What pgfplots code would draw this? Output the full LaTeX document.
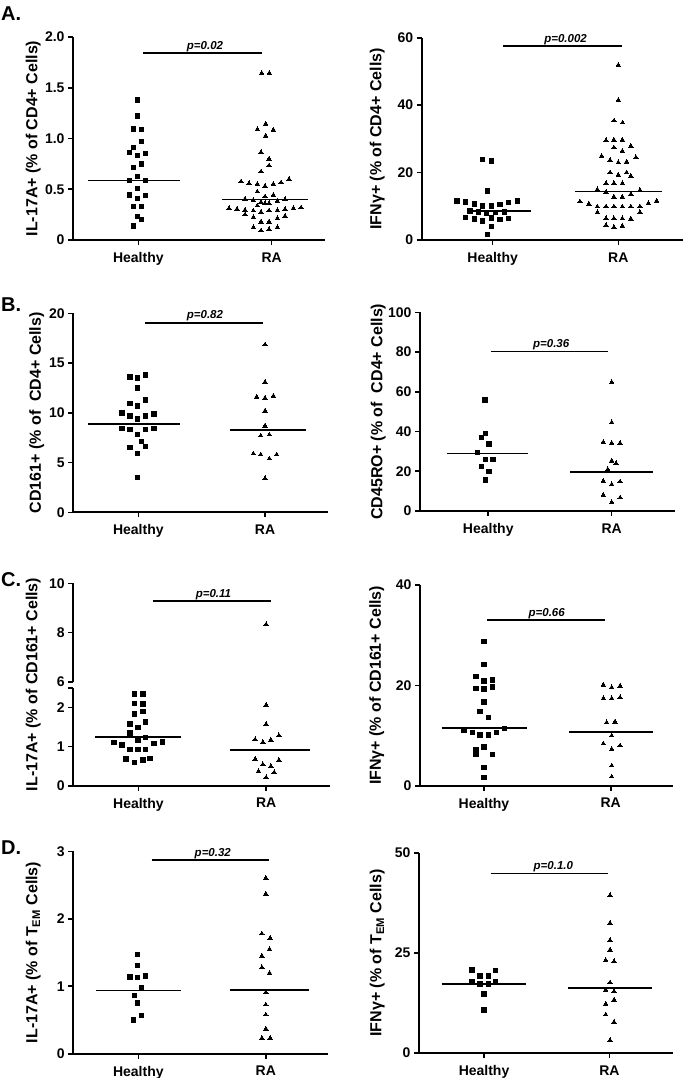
\documentclass[border=0pt]{standalone}
\usepackage{fontspec}
\setmainfont{Liberation Sans}
\usepackage{pgfplots}
\pgfplotsset{compat=1.18}
\pgfplotsset{
  panel/.style={
    scale only axis, axis x line=bottom, axis y line=left,
    axis line style={-, line width=1.9pt, black},
    tick align=outside, major tick length=5pt,
    every tick/.style={line width=1.6pt, black},
    xtick={0,1}, xticklabels={Healthy,RA},
    tick label style={font=\bfseries\fontsize{14}{14}\selectfont},
    xticklabel style={yshift=-4pt},
    ymin=0, clip=false, anchor=south west,
  },
  hs/.style={only marks, mark=square*, mark size=2.25pt, mark options={fill=black,draw=black,line width=0pt}},
  ra/.style={only marks, mark=triangle*, mark size=2.55pt, mark options={fill=black,draw=black,line width=0pt}},
  med/.style={black, line width=1.7pt, no marks},
}
\newcommand{\pv}{\bfseries\itshape\fontsize{11.5}{12}\selectfont}
\newcommand{\yl}{\bfseries\fontsize{16}{16}\selectfont}
\newcommand{\pl}{\bfseries\fontsize{20}{20}\selectfont}
\begin{document}
\begin{tikzpicture}
\useasboundingbox (0,0) rectangle (685pt,-1078pt);
% panel letters
\node[font=\pl, anchor=west, inner sep=0pt] at (1pt,-14pt) {A.};
\node[font=\pl, anchor=west, inner sep=0pt] at (1pt,-305pt) {B.};
\node[font=\pl, anchor=west, inner sep=0pt] at (1pt,-580pt) {C.};
\node[font=\pl, anchor=west, inner sep=0pt] at (1pt,-848pt) {D.};
% y labels
\node[font=\yl, rotate=90] at (33.3pt,-138.5pt) {IL-17A+ (\% of CD4+ Cells)};
\node[font=\yl, rotate=90] at (377.3pt,-138.9pt) {IFNγ+ (\% of CD4+ Cells)};
\node[font=\yl, rotate=90] at (36.7pt,-412.8pt) {CD161+ (\% of\ \ CD4+ Cells)};
\node[font=\yl, rotate=90] at (378.3pt,-411.7pt) {CD45RO+ (\% of\ \ CD4+ Cells)};
\node[font=\yl, rotate=90] at (33.3pt,-684.5pt) {IL-17A+ (\% of CD161+ Cells)};
\node[font=\yl, rotate=90] at (376.7pt,-685.4pt) {IFNγ+ (\% of CD161+ Cells)};
\node[font=\yl, rotate=90] at (33.3pt,-952.5pt) {IL-17A+ (\% of T\textsubscript{EM} Cells)};
\node[font=\yl, rotate=90] at (377.3pt,-953pt) {IFNγ+ (\% of T\textsubscript{EM} Cells)};

% ---------------- A left
\begin{axis}[panel, at={(73pt,-240pt)}, width=252pt, height=203pt,
  xmin=-0.49, xmax=1.40, ymax=2, ytick={0,0.5,1,1.5,2}, yticklabels={0,0.5,1.0,1.5,2.0}]
\addplot[hs] coordinates {(-0.005,1.379) (-0.005,1.222) (-0.0375,1.094) (0.025,1.090) (0.025,0.969)
 (-0.0375,0.913) (-0.0675,0.860) (-0.005,0.831) (0.055,0.854) (0.025,0.749) (-0.0375,0.713)
 (-0.005,0.624) (-0.0675,0.585) (0.055,0.585) (-0.005,0.509) (-0.0675,0.443) (-0.005,0.411) (0.055,0.44)
 (-0.0375,0.328) (0.025,0.328) (-0.005,0.23) (0.025,0.204) (-0.0375,0.138)};
\addplot[ra] coordinates {(0.925,1.645) (0.9825,1.645) (0.955,1.145) (0.8925,1.09) (1.0125,1.085) (0.955,1.026)
 (0.92,0.864) (0.98,0.80) (0.98,0.732) (0.92,0.673)
 (0.77,0.575) (0.83,0.558) (0.8925,0.552) (0.95,0.532) (1.0125,0.552) (1.07,0.565) (1.13,0.60)
 (0.8925,0.476) (1.0125,0.443) (0.95,0.427)
 (0.80,0.404) (0.8625,0.394) (0.92,0.374) (0.95,0.361) (0.98,0.361) (1.0425,0.384) (1.10,0.40)
 (0.8925,0.338)
 (0.68,0.312) (0.74,0.305) (0.80,0.296) (0.8625,0.289) (0.92,0.276) (0.98,0.289) (1.0425,0.292) (1.10,0.302) (1.1625,0.312) (1.22,0.318)
 (0.80,0.25) (1.10,0.236) (0.8625,0.223) (1.0425,0.213) (0.92,0.18) (0.98,0.18)
 (0.8625,0.125) (1.0425,0.125) (0.92,0.092) (0.98,0.105)};
\addplot[med] coordinates {(-0.375,0.585) (0.31,0.585)};
\addplot[med] coordinates {(0.63,0.40) (1.27,0.40)};
\addplot[med] coordinates {(0.035,1.84) (0.927,1.84)};
\node[font=\pv, anchor=base, yshift=4pt] at (axis cs:0.5,1.84) {p=0.02};
\end{axis}

% ---------------- A right
\begin{axis}[panel, at={(421.7pt,-240pt)}, width=261.3pt, height=202.3pt,
  xmin=-0.565, xmax=1.515, ymax=60, ytick={0,20,40,60}, yticklabels={0,20,40,60}]
\addplot[hs] coordinates {(-0.08,23.9) (-0.008,23.4) (-0.042,14.6)
 (-0.286,11.6) (-0.215,11.3) (-0.146,10.7) (-0.08,10.1) (-0.008,10.1) (0.058,10.5) (0.127,11.1) (0.196,11.5)
 (-0.18,8.6) (-0.114,8.3) (-0.048,7.9) (0.024,8.1) (0.093,8.3)
 (-0.215,6.6) (-0.146,6.2) (-0.08,5.7) (-0.008,6.5) (0.058,6.1) (0.127,6.4)
 (-0.008,4.0) (-0.042,1.7)};
\addplot[ra] coordinates {(1,51.9) (1,41.5) (0.966,35.4) (1.034,34.8)
 (0.902,29.5) (0.965,29.7) (1.032,29.7) (0.965,27.4) (1.032,26.4) (1.1,27.9)
 (0.867,24.9) (0.934,23.7) (1,23.0) (1.066,23.2) (1.14,24.5)
 (0.934,20.0) (1,19.3) (1.066,20.0) (1.1,19.0)
 (0.902,16.8) (0.965,16.8) (1.032,16.8)
 (0.833,15.0) (0.902,14.1) (1.172,14.8)
 (0.965,12.8) (1.032,12.8) (1.1,13.6)
 (0.695,11.4) (0.766,10.7) (1.239,10.9) (1.305,11.6)
 (0.833,9.9) (0.902,9.9) (0.965,9.9) (1.032,9.9) (1.1,9.9) (1.172,9.9)
 (0.833,8.2) (1.172,8.2)
 (0.902,6.4) (0.965,6.4) (1.032,6.4) (1.1,6.3)
 (0.902,4.4) (0.965,3.8) (1.032,4.2)};
\addplot[med] coordinates {(-0.194,8.7) (0.302,8.7)};
\addplot[med] coordinates {(0.655,14.4) (1.345,14.4)};
\addplot[med] coordinates {(0.085,57.5) (1.027,57.5)};
\node[font=\pv, anchor=base, yshift=4pt] at (axis cs:0.58,57.5) {p=0.002};
\end{axis}

% ---------------- B left
\begin{axis}[panel, at={(73.3pt,-512.3pt)}, width=254.7pt, height=199pt,
  xmin=-0.513, xmax=1.497, ymax=20, ytick={0,5,10,15,20}, yticklabels={0,5,10,15,20}]
\addplot[hs] coordinates {(-0.066,13.6) (-0.005,13.5) (0.058,13.8) (-0.005,12.5)
 (-0.066,10.95) (-0.005,10.7) (0.058,11.3)
 (-0.13,10.0) (-0.066,9.7) (-0.005,9.4) (0.058,9.7) (0.124,9.9)
 (-0.13,8.4) (-0.066,8.3) (0.058,8.3) (0.124,8.4)
 (-0.005,7.8) (0.026,7.1) (-0.066,6.5) (0.058,6.6) (-0.005,5.9) (-0.005,3.5)};
\addplot[ra] coordinates {(1,16.85) (1,13.1) (0.934,11.6) (1,11.5) (1.066,11.7) (1,10.2) (1,8.7)
 (0.966,7.7) (1.034,7.8) (0.908,5.9) (0.966,5.8) (1.034,5.4) (1.092,5.8) (1,3.4)};
\addplot[med] coordinates {(-0.395,8.84) (0.33,8.84)};
\addplot[med] coordinates {(0.724,8.24) (1.324,8.24)};
\addplot[med] coordinates {(0.053,19.06) (0.987,19.06)};
\node[font=\pv, anchor=base, yshift=4pt] at (axis cs:0.526,19.06) {p=0.82};
\end{axis}

% ---------------- B right
\begin{axis}[panel, at={(420pt,-511pt)}, width=255pt, height=198.7pt,
  xmin=-0.553, xmax=1.513, ymax=100, ytick={0,20,40,60,80,100}, yticklabels={0,20,40,60,80,100}]
\addplot[hs] coordinates {(-0.027,55.9) (-0.022,39.1) (-0.054,37.1) (0.008,33.6) (-0.086,29.5)
 (-0.022,26.0) (0.04,26.0) (-0.054,22.3) (0.008,19.8) (-0.022,15.6)};
\addplot[ra] coordinates {(1,64.8) (1,44.6) (0.932,34.6) (1,34.2) (1.068,34.2) (1,25.3) (1.035,24.0)
 (0.968,21.0) (0.932,15.1) (1,13.4) (1.068,14.8) (0.932,8.05) (1.068,6.7) (1,4.4)};
\addplot[med] coordinates {(-0.338,29.0) (0.319,29.0)};
\addplot[med] coordinates {(0.662,19.8) (1.338,19.8)};
\addplot[med] coordinates {(0.022,80.2) (0.973,80.2)};
\node[font=\pv, anchor=base, yshift=4pt] at (axis cs:0.51,80.2) {p=0.36};
\end{axis}

% ---------------- C left (broken axis: lower part)
\begin{axis}[panel, at={(73.3pt,-785.7pt)}, width=256.7pt, height=98pt,
  xmin=-0.51, xmax=1.50, ymax=2.5, ytick={0,1,2,2.5}, yticklabels={0,1,2,{}}]
\addplot[hs] coordinates {(-0.031,2.34) (0.034,2.34) (-0.031,2.10) (0.034,2.09) (-0.031,1.83) (0.034,1.89)
 (-0.065,1.57) (0.057,1.63) (-0.005,1.49) (-0.065,1.34) (0.057,1.23) (-0.005,1.17)
 (-0.19,1.10) (-0.128,1.04) (0.123,1.08) (0.188,1.11)
 (-0.065,0.93) (-0.005,0.93) (0.057,0.93)
 (-0.097,0.68) (0.034,0.655) (0.091,0.70) (-0.031,0.59)};
\addplot[ra] coordinates {(1,2.06) (1,1.57) (0.914,1.18) (0.974,1.11) (1.037,1.17) (1.10,1.28)
 (0.914,0.68) (1.10,0.655) (0.974,0.545) (1.037,0.50) (0.94,0.37) (1.063,0.34) (1,0.21)};
\addplot[med] coordinates {(-0.34,1.234) (0.33,1.234)};
\addplot[med] coordinates {(0.72,0.91) (1.345,0.91)};
\end{axis}
% C left upper part
\begin{axis}[panel, axis x line=none, at={(73.3pt,-681.7pt)}, width=256.7pt, height=98.4pt,
  xmin=-0.51, xmax=1.50, ymin=6, ymax=10, ytick={6,8,10}, yticklabels={6,8,10}]
\addplot[ra] coordinates {(1,8.33)};
\addplot[med] coordinates {(0.112,9.28) (1.037,9.28)};
\node[font=\pv, anchor=base, yshift=4pt] at (axis cs:0.587,9.28) {p=0.11};
\end{axis}

% ---------------- C right
\begin{axis}[panel, at={(420pt,-785.7pt)}, width=253.3pt, height=200.7pt,
  xmin=-0.505, xmax=1.494, ymax=40, ytick={0,20,40}, yticklabels={0,20,40}]
\addplot[hs] coordinates {(0,28.7) (0,24.2) (-0.063,21.8) (0,20.9) (0.066,21.1)
 (-0.063,19.4) (0,19.3) (0.066,19.7) (0,16.7) (-0.032,14.75) (0.034,13.55)
 (-0.158,11.0) (-0.092,10.6) (-0.032,10.1) (0.034,10.1) (0.1,10.6) (0.16,11.4)
 (-0.063,7.1) (0,7.7) (-0.063,6.2) (0.066,6.2) (0,3.65) (0,1.6)};
\addplot[ra] coordinates {(0.942,20.1) (1.008,19.6) (1.074,19.9) (0.942,17.4) (1.008,17.4) (1.074,17.6)
 (0.968,12.6) (1.034,12.75) (1.008,9.97) (0.942,8.4) (1.008,7.3) (1.074,8.0) (1.008,4.0) (1.008,1.8)};
\addplot[med] coordinates {(-0.334,11.56) (0.342,11.56)};
\addplot[med] coordinates {(0.674,10.76) (1.337,10.76)};
\addplot[med] coordinates {(0.021,33.0) (0.955,33.0)};
\node[font=\pv, anchor=base, yshift=4pt] at (axis cs:0.495,33.0) {p=0.66};
\end{axis}

% ---------------- D left
\begin{axis}[panel, at={(73.3pt,-1053.7pt)}, width=255pt, height=202.4pt,
  xmin=-0.51, xmax=1.49, ymax=3, ytick={0,1,2,3}, yticklabels={0,1,2,3}]
\addplot[hs] coordinates {(-0.005,1.468) (-0.005,1.31) (-0.065,1.14) (-0.005,1.13) (0.058,1.15)
 (0.026,0.974) (-0.031,0.865) (-0.005,0.75) (0.026,0.568) (-0.039,0.5)};
\addplot[ra] coordinates {(1,2.605) (1,2.37) (0.969,1.78) (1.034,1.715) (1.029,1.55) (0.969,1.45)
 (0.969,1.28) (1.029,1.196) (1,0.91) (1,0.727) (1,0.578) (1,0.37) (0.969,0.232) (1.034,0.232)};
\addplot[med] coordinates {(-0.332,0.939) (0.332,0.939)};
\addplot[med] coordinates {(0.72,0.949) (1.335,0.949)};
\addplot[med] coordinates {(0.105,2.867) (1.026,2.867)};
\node[font=\pv, anchor=base, yshift=4pt] at (axis cs:0.584,2.867) {p=0.32};
\end{axis}

% ---------------- D right
\begin{axis}[panel, at={(419pt,-1053pt)}, width=254.3pt, height=200pt,
  xmin=-0.519, xmax=1.51, ymax=50, ytick={0,25,50}, yticklabels={0,25,50}]
\addplot[hs] coordinates {(-0.098,20.7) (-0.032,19.3) (0.035,19.2) (0.093,20.6)
 (-0.098,17.75) (-0.032,17.25) (0.035,17.3) (0.093,17.9) (0,14.8) (0,10.7)};
\addplot[ra] coordinates {(1.005,39.4) (1.005,32.5) (1.005,28.2) (1.005,25.8) (0.971,23.2) (1.037,22.9)
 (1.005,17.6) (0.971,15.8) (1.037,15.4) (1.037,13.3) (0.971,12.3) (0.971,9.6) (1.037,7.75) (1.005,3.2)};
\addplot[med] coordinates {(-0.338,17.33) (0.332,17.33)};
\addplot[med] coordinates {(0.673,16.25) (1.338,16.25)};
\addplot[med] coordinates {(0.053,44.9) (0.992,44.9)};
\node[font=\pv, anchor=base, yshift=4pt] at (axis cs:0.553,44.9) {p=0.1.0};
\end{axis}
\end{tikzpicture}
\end{document}
